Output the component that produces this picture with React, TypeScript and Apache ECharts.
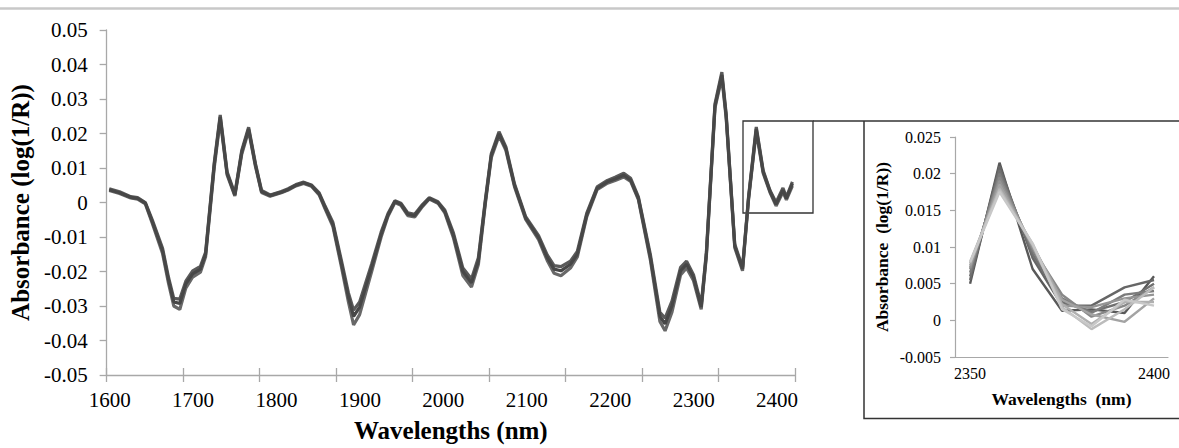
import React, { useEffect, useRef } from "react";
import * as echarts from "echarts";

// ---------- data ----------
const WAVELENGTHS = [
  1603, 1615, 1628, 1636, 1645, 1653, 1665, 1672, 1678, 1685, 1692, 1700, 1709, 1715, 1725, 1732,
  1740, 1749, 1757, 1765, 1773, 1780, 1790, 1803, 1811, 1820, 1829, 1838, 1847, 1854, 1863, 1873,
  1881, 1887, 1894, 1908, 1919, 1927, 1935, 1942, 1950, 1958, 1967, 1975, 1985, 1993, 2003, 2014,
  2024, 2032, 2040, 2047, 2056, 2064, 2074, 2087, 2102, 2112, 2120, 2128, 2139, 2147, 2158, 2170,
  2182, 2191, 2201, 2209, 2218, 2232, 2243, 2249, 2257, 2267, 2274, 2282, 2291, 2297, 2307, 2315,
  2320, 2330, 2339, 2346, 2355, 2363, 2371, 2378, 2386, 2390, 2397,
];

const SPECTRUM_MID = [
  0.0037, 0.0028, 0.0015, 0.0012, -0.0002, -0.0055, -0.014, -0.0226, -0.0288, -0.0293, -0.0236, -0.0207, -0.0193, -0.015, 0.0108, 0.0248,
  0.0084, 0.0022, 0.0146, 0.0213, 0.0108, 0.0032, 0.002, 0.003, 0.0038, 0.005, 0.0057, 0.0049, 0.0025, -0.0015, -0.0064, -0.0179,
  -0.0274, -0.033, -0.0303, -0.0188, -0.0093, -0.0036, 0.0003, -0.0005, -0.0034, -0.0038, -0.0009, 0.0012, 0.0, -0.0026, -0.0095, -0.02,
  -0.0233, -0.017, 0.0, 0.0136, 0.0199, 0.0156, 0.005, -0.0045, -0.0102, -0.016, -0.0193, -0.0198, -0.0179, -0.015, -0.0036, 0.0041,
  0.006, 0.0068, 0.0079, 0.0065, 0.0012, -0.016, -0.033, -0.0352, -0.03, -0.0198, -0.0179, -0.0217, -0.0303, -0.015, 0.028, 0.037,
  0.0251, -0.0126, -0.0193, 0.0012, 0.0213, 0.0089, 0.0032, -0.0005, 0.0036, 0.0012, 0.0055,
];

const SPECTRUM_LOW = [
  0.0035, 0.0026, 0.0013, 0.001, -0.0004, -0.006, -0.0148, -0.0235, -0.03, -0.031, -0.0248, -0.0216, -0.0202, -0.0157, 0.01, 0.024,
  0.008, 0.0019, 0.014, 0.0208, 0.0104, 0.0029, 0.0018, 0.0028, 0.0036, 0.0048, 0.0055, 0.0047, 0.0022, -0.0019, -0.007, -0.0188,
  -0.0288, -0.0355, -0.0325, -0.02, -0.01, -0.004, 0.0, -0.0008, -0.0038, -0.0042, -0.0012, 0.001, -0.0002, -0.003, -0.0102, -0.0212,
  -0.0245, -0.018, -0.0006, 0.013, 0.0193, 0.0151, 0.0046, -0.0049, -0.0108, -0.0168, -0.0205, -0.0212, -0.019, -0.0158, -0.0041, 0.0037,
  0.0056, 0.0064, 0.0074, 0.0061, 0.0008, -0.0168, -0.0345, -0.0372, -0.0318, -0.021, -0.019, -0.0226, -0.031, -0.0156, 0.0274, 0.0362,
  0.0245, -0.0131, -0.0198, 0.0008, 0.0206, 0.0085, 0.0029, -0.001, 0.003, 0.0008, 0.0048,
];

const SPECTRUM_HIGH = [
  0.004, 0.0031, 0.0017, 0.0014, 0.0, -0.005, -0.0133, -0.0218, -0.0278, -0.028, -0.0228, -0.0198, -0.0185, -0.0144, 0.0114, 0.0254,
  0.0089, 0.0025, 0.0151, 0.0218, 0.0112, 0.0035, 0.0022, 0.0032, 0.004, 0.0052, 0.0059, 0.0051, 0.0028, -0.0011, -0.0058, -0.017,
  -0.0262, -0.0312, -0.0288, -0.0178, -0.0086, -0.0032, 0.0005, -0.0002, -0.003, -0.0034, -0.0006, 0.0014, 0.0002, -0.0022, -0.0088, -0.019,
  -0.0222, -0.016, 0.0005, 0.0141, 0.0205, 0.0161, 0.0054, -0.0041, -0.0096, -0.0152, -0.0183, -0.0186, -0.017, -0.0142, -0.0031, 0.0045,
  0.0064, 0.0073, 0.0085, 0.007, 0.0016, -0.0152, -0.0318, -0.0335, -0.0286, -0.0188, -0.017, -0.0209, -0.0296, -0.0144, 0.0286, 0.0378,
  0.0257, -0.0121, -0.0188, 0.0016, 0.0219, 0.0093, 0.0035, 0.0, 0.0042, 0.0016, 0.006,
];

const X_TICK_LABELS = [1600, 1700, 1800, 1900, 2000, 2100, 2200, 2300, 2400];

// inset (zoom on 2350–2400 nm)
const INSET_WAVELENGTHS = [2350, 2358, 2367, 2375, 2383, 2392, 2400];
const INSET_X_LABELS = [2350, 2400];
const INSET_S1 = [0.005, 0.0215, 0.007, 0.0013, 0.0015, 0.001, 0.006];
const INSET_S2 = [0.0055, 0.021, 0.0085, 0.002, 0.002, 0.0045, 0.0055];
const INSET_S3 = [0.006, 0.0205, 0.009, 0.0025, 0.0012, 0.0025, 0.005];
const INSET_S4 = [0.0065, 0.02, 0.0095, 0.003, 0.001, 0.0035, 0.004];
const INSET_S5 = [0.007, 0.0195, 0.0098, 0.0035, 0.0005, 0.002, 0.0045];
const INSET_S6 = [0.0072, 0.019, 0.01, 0.002, 0.0018, 0.003, 0.0035];
const INSET_S7 = [0.0075, 0.0185, 0.0102, 0.0028, 0.0008, -0.0002, 0.003];
const INSET_S8 = [0.0078, 0.018, 0.0104, 0.0022, -0.0005, 0.0025, 0.0025];
const INSET_S9 = [0.008, 0.0178, 0.0103, 0.0018, -0.0012, 0.0015, 0.0045];
const INSET_S10 = [0.0079, 0.0175, 0.0105, 0.0015, -0.0008, 0.0028, 0.002];

const INSET_SERIES = [INSET_S1, INSET_S2, INSET_S3, INSET_S4, INSET_S5, INSET_S6, INSET_S7, INSET_S8, INSET_S9, INSET_S10];
const INSET_COLORS = ["#595959", "#666666", "#707070", "#7c7c7c", "#888888", "#959595", "#a3a3a3", "#b0b0b0", "#bcbcbc", "#c8c8c8"];

const SERIF = '"Liberation Serif", "Times New Roman", serif';
const AXIS_GRAY = "#a8a8a8";

function zip(xs: number[], ys: number[]) {
  return xs.map((x, i) => [x, ys[i]]);
}

export default function App() {
  const ref = useRef<HTMLDivElement>(null);

  useEffect(() => {
    if (!ref.current) return;
    const chart = echarts.init(ref.current, undefined, { renderer: "svg" });

    const mainMin = 1600;
    const mainMax = 2400;
    const mainTicks = Array.from({ length: 10 }, (_, i) => mainMin + (i * (mainMax - mainMin)) / 9);

    const mainSeries = [
      { data: SPECTRUM_LOW, color: "#686868" },
      { data: SPECTRUM_HIGH, color: "#5a5a5a" },
      { data: SPECTRUM_MID, color: "#474747" },
    ].map((s) => ({
      type: "line",
      xAxisIndex: 0,
      yAxisIndex: 0,
      data: zip(WAVELENGTHS, s.data),
      symbol: "none",
      silent: true,
      lineStyle: { color: s.color, width: 3.2 },
    }));

    const insetSeries = INSET_SERIES.map((vals, i) => ({
      type: "line",
      xAxisIndex: 3,
      yAxisIndex: 1,
      data: zip(INSET_WAVELENGTHS, vals),
      symbol: "none",
      silent: true,
      lineStyle: { color: INSET_COLORS[i], width: 2.4 },
    }));

    const plain = (v: number) => String(v);

    chart.setOption({
      animation: false,
      backgroundColor: "#ffffff",
      grid: [
        { left: 104, top: 30, width: 691, height: 349 },
        { left: 955, top: 137, width: 213, height: 220 },
      ],
      xAxis: [
        // data axis of the main chart (line + outer ticks)
        {
          type: "value",
          gridIndex: 0,
          position: "bottom",
          min: mainMin,
          max: mainMax,
          axisLine: { show: true, onZero: false, lineStyle: { color: AXIS_GRAY, width: 1.3 } },
          axisTick: { show: true, length: 7, customValues: mainTicks, lineStyle: { color: AXIS_GRAY, width: 1.3 } },
          axisLabel: { show: false },
          splitLine: { show: false },
        },
        // label axis of the main chart (labels + name)
        {
          type: "value",
          gridIndex: 0,
          position: "bottom",
          min: 1596.42,
          max: 2421.49,
          axisLine: { show: false, onZero: false },
          axisTick: { show: false },
          splitLine: { show: false },
          axisLabel: {
            customValues: X_TICK_LABELS,
            formatter: plain,
            margin: 14,
            color: "#000",
            fontFamily: SERIF,
            fontSize: 21,
          },
          name: "Wavelengths (nm)",
          nameLocation: "middle",
          nameGap: 43,
          nameTextStyle: { color: "#000", fontFamily: SERIF, fontSize: 25, fontWeight: "bold" },
        },
        // inner half of the crossing ticks
        {
          type: "value",
          gridIndex: 0,
          position: "bottom",
          min: mainMin,
          max: mainMax,
          axisLine: { show: false, onZero: false },
          axisTick: { show: true, inside: true, length: 7, customValues: mainTicks, lineStyle: { color: AXIS_GRAY, width: 1.3 } },
          axisLabel: { show: false },
          splitLine: { show: false },
        },
        // inset x axis
        {
          type: "value",
          gridIndex: 1,
          position: "bottom",
          min: 2345.9,
          max: 2403.8,
          axisLine: { show: true, onZero: false, lineStyle: { color: AXIS_GRAY, width: 1.2 } },
          axisTick: { show: false },
          splitLine: { show: false },
          axisLabel: {
            customValues: INSET_X_LABELS,
            formatter: plain,
            margin: 8,
            color: "#000",
            fontFamily: SERIF,
            fontSize: 16,
          },
          name: "Wavelengths  (nm)",
          nameLocation: "middle",
          nameGap: 33,
          nameTextStyle: { color: "#000", fontFamily: SERIF, fontSize: 17.5, fontWeight: "bold" },
        },
      ],
      yAxis: [
        {
          type: "value",
          gridIndex: 0,
          min: -0.05,
          max: 0.05,
          interval: 0.01,
          axisLine: { show: true, onZero: false, lineStyle: { color: AXIS_GRAY, width: 1.3 } },
          axisTick: { show: true, length: 7, lineStyle: { color: AXIS_GRAY, width: 1.3 } },
          splitLine: { show: false },
          axisLabel: {
            margin: 19,
            color: "#000",
            fontFamily: SERIF,
            fontSize: 21,
            formatter: (v: number) => String(+v.toFixed(2)),
          },
          name: "Absorbance (log(1/R))",
          nameLocation: "middle",
          nameGap: 67,
          nameTextStyle: { color: "#000", fontFamily: SERIF, fontSize: 25, fontWeight: "bold" },
        },
        {
          type: "value",
          gridIndex: 1,
          min: -0.005,
          max: 0.025,
          interval: 0.005,
          axisLine: { show: true, onZero: false, lineStyle: { color: AXIS_GRAY, width: 1.2 } },
          axisTick: { show: true, length: 5, lineStyle: { color: AXIS_GRAY, width: 1.2 } },
          splitLine: { show: false },
          axisLabel: {
            margin: 14,
            color: "#000",
            fontFamily: SERIF,
            fontSize: 16,
            formatter: (v: number) => String(+v.toFixed(3)),
          },
          name: "Absorbance  (log(1/R))",
          nameLocation: "middle",
          nameGap: 64,
          nameTextStyle: { color: "#000", fontFamily: SERIF, fontSize: 17.5, fontWeight: "bold" },
        },
      ],
      graphic: [
        {
          type: "line",
          shape: { x1: 0, y1: 8.5, x2: 1179, y2: 8.5 },
          style: { stroke: "#c8c8c8", lineWidth: 2.5 },
          silent: true,
        },
        {
          type: "rect",
          shape: { x: 743, y: 121, width: 70, height: 92 },
          style: { fill: "none", stroke: "#333333", lineWidth: 1.3 },
          silent: true,
        },
        {
          type: "polyline",
          shape: { points: [[813, 121], [1179, 121]] },
          style: { fill: "none", stroke: "#333333", lineWidth: 1.3 },
          silent: true,
        },
        {
          type: "polyline",
          shape: { points: [[864, 121], [864, 418.5], [1179, 418.5]] },
          style: { fill: "none", stroke: "#333333", lineWidth: 1.5 },
          silent: true,
        },
      ],
      series: [...mainSeries, ...insetSeries],
    });

    return () => chart.dispose();
  }, []);

  return (
    <div
      ref={ref}
      style={{ position: "fixed", left: 0, top: 0, width: 1179, height: 448, background: "#fff" }}
    />
  );
}
